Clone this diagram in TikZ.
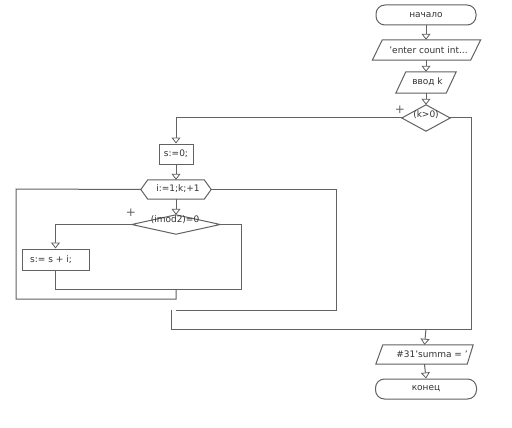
\documentclass[tikz,border=0pt]{standalone}
\usepackage{fontspec}
\setmainfont{DejaVu Sans}
\usetikzlibrary{arrows.meta,calc}
\definecolor{lc}{HTML}{626262}
\definecolor{tc}{HTML}{333333}
\tikzset{
  line/.style={draw=lc,line width=1pt},
  arr/.style={line,-{Triangle[width=9pt,length=6pt,fill=white,line width=0.8pt]}},
  box/.style={rectangle,inner sep=0pt,text=tc,font=\fontsize{9}{10}\selectfont},
  txt/.style={inner sep=0pt,text=tc,font=\fontsize{9}{10}\selectfont},
  plus/.style={inner sep=0pt,text=lc,font=\fontsize{12}{12}\selectfont},
}
\begin{document}
\begin{tikzpicture}[x=1pt,y=-1pt]
\useasboundingbox[fill=white] (0,0) rectangle (512,428);
% terminals
\node[box,line,rounded corners=9pt,minimum width=100pt,minimum height=20pt] (start) at (426,15) {начало};
\node[box,line,rounded corners=9pt,minimum width=101pt,minimum height=20pt] (stop) at (426,389) {конец};
% parallelogram 1
\node[box,minimum width=108pt,minimum height=20pt] (out1) at (426.5,50) {};
\draw[line] (out1.south west) -- ([xshift=10pt]out1.north west) -- (out1.north east) -- ([xshift=-10pt]out1.south east) -- cycle;
\node[txt] (out1t) at (428.5,50) {'enter count int...};
% input k
\node[box,minimum width=60pt,minimum height=21pt] (ink) at (426,82.5) {};
\draw[line] (ink.south west) -- ([xshift=10pt]ink.north west) -- (ink.north east) -- ([xshift=-10pt]ink.south east) -- cycle;
\node[txt] (inkt) at (427.5,82) {ввод k};
% diamond k>0
\node[box,minimum width=48pt,minimum height=26pt] (dk) at (426,118) {};
\draw[line] (dk.west) -- (dk.north) -- (dk.east) -- (dk.south) -- cycle;
\node[txt] (dkt) at (426,115) {(k>0)};
\node[plus] (p1) at (400,110) {+};
% s:=0
\node[box,line,minimum width=34pt,minimum height=20pt] (s0) at (176,154) {s:=0;};
% hexagon
\node[box,minimum width=70pt,minimum height=19pt] (hex) at (176,189.5) {};
\draw[line] (hex.west) -- ([xshift=7pt]hex.north west) -- ([xshift=-7pt]hex.north east) -- (hex.east) -- ([xshift=-7pt]hex.south east) -- ([xshift=7pt]hex.south west) -- cycle;
\node[txt] (hext) at (178,189) {i:=1;k;+1};
% diamond imod2
\node[box,minimum width=88pt,minimum height=19pt] (dm) at (176,224.5) {};
\draw[line] (dm.west) -- (dm.north) -- (dm.east) -- (dm.south) -- cycle;
\node[txt] (dmt) at (175,220) {(imod2)=0};
\node[plus] (p2) at (131,213) {+};
% s:=s+i
\node[box,line,minimum width=67pt,minimum height=21pt] (ssi) at (55.5,259.5) {};
\node[txt,anchor=west] (ssit) at (30,259.5) {s:= s + i;};
% output
\node[box,minimum width=97pt,minimum height=19pt] (out2) at (424.5,354.5) {};
\draw[line] (out2.south west) -- ([xshift=7pt]out2.north west) -- (out2.north east) -- ([xshift=-6pt]out2.south east) -- cycle;
\node[txt] (out2t) at (432,354.5) {\#31'summa = '};
% coordinates
\coordinate (c1) at (176,289);
\coordinate (c2) at (176,310);
\coordinate (c3) at (171,310);
\coordinate (c4) at (426,329);
% connectors
\draw[arr] (start.south) -- (out1.north -| start.south);
\draw[arr] (426,60) -- (ink.north);
\draw[arr] (ink.south) -- (dk.north);
\draw[arr] (dk.west) -| (s0.north);
\draw[arr] (s0.south) -- (hex.north);
\draw[arr] (hex.south) -- (dm.north);
\draw[arr] (dm.west) -| (ssi.north);
\draw[line] (ssi.south) |- (241,289) |- (dm.east);
\draw[line] (c1) -- (176,299) -| (16,189) -- (hex.west);
\draw[line] (hex.east) -| (336,310) -- (c2);
\draw[line] (c3) |- (471,329) |- (dk.east);
\draw[arr] (c4) -- (out2.north);
\draw[arr] (out2.south) -- (stop.north);
\end{tikzpicture}
\end{document}
